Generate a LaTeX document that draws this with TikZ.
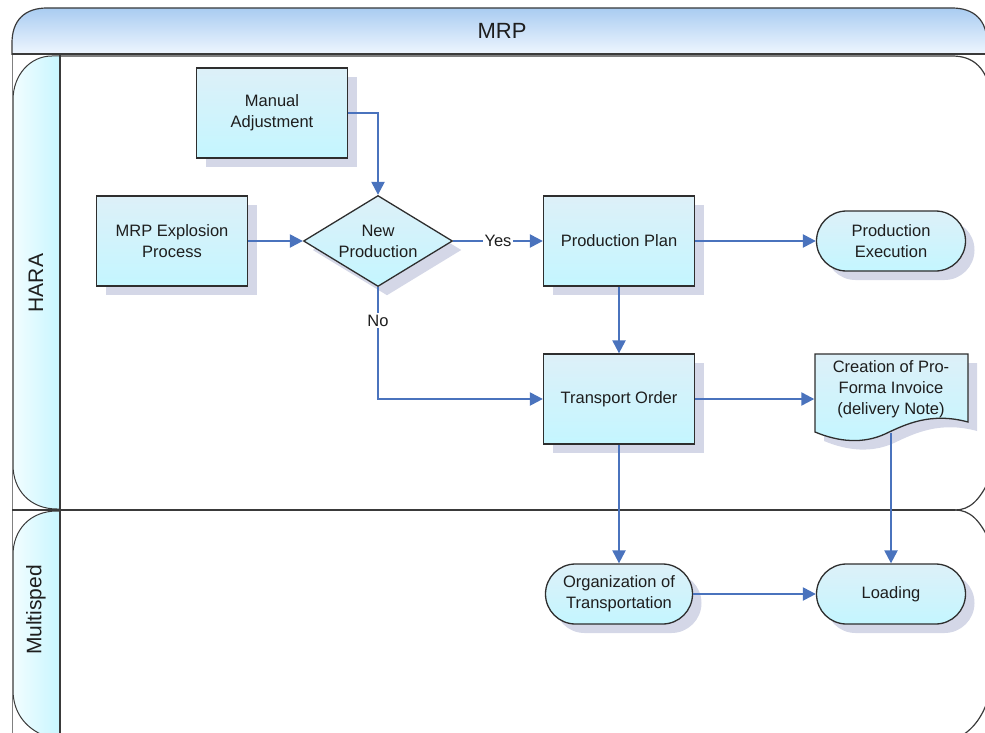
\documentclass[tikz,border=0pt]{standalone}
\usepackage{fontspec}
\setmainfont{Liberation Sans}
\usetikzlibrary{shapes.geometric,shapes.misc,arrows.meta,shadows}
\definecolor{edgec}{HTML}{4A73BD}
\definecolor{nodeb}{HTML}{2E2E2E}
\definecolor{nodetop}{HTML}{DDF0F8}
\definecolor{nodebot}{HTML}{C4F6FF}
\definecolor{shadowc}{HTML}{D4D7E7}
\definecolor{txt}{HTML}{1E1E1E}
\definecolor{hdrtop}{HTML}{A9CCF1}
\definecolor{hdrbot}{HTML}{F0F7FF}
\definecolor{lanel}{HTML}{F2FDFF}
\definecolor{laner}{HTML}{C8F6FF}
\definecolor{framec}{HTML}{3A3A3A}
\newcommand\nodefont{\fontsize{16.5}{21}\selectfont}
\tikzset{
  box/.style={draw=nodeb, line width=1.3pt, top color=nodetop, bottom color=nodebot,
    drop shadow={shadow xshift=9pt, shadow yshift=-9pt, fill=shadowc, opacity=1},
    font=\nodefont, align=center, text=txt, inner sep=2pt},
  proc/.style={box, rectangle, minimum width=151pt, minimum height=90pt},
  term/.style={box, rounded rectangle, minimum width=153pt, minimum height=60pt},
  flow/.style={draw=edgec, line width=2.3pt, -{Triangle[length=13pt,width=13pt]}},
  lbl/.style={fill=white, font=\nodefont, text=txt, inner sep=2pt},
  frame/.style={draw=framec, line width=1.2pt},
  lanetxt/.style={font=\fontsize{21}{24}\selectfont, text=txt, rotate=90}
}
\begin{document}
\begin{tikzpicture}[x=1pt,y=-1pt]
\useasboundingbox (0,0) rectangle (985,733);
\clip (0,0) rectangle (985,733);
% header
\shade[top color=hdrtop, bottom color=hdrbot] (12,55) -- (12,43) .. controls (12,20) and (25,8) .. (47,8) -- (952,8) .. controls (974,8) and (987,20) .. (987,43) -- (987,55) -- cycle;
\draw[frame] (12,55) -- (12,43) .. controls (12,20) and (25,8) .. (47,8) -- (952,8) .. controls (974,8) and (987,20) .. (987,43) -- (987,55);
\node[font=\fontsize{22}{26}\selectfont, text=txt] (title) at (502,31) {MRP};
% lane labels
\shade[left color=lanel, right color=laner, draw=framec, line width=1pt] (60,56) -- (52,56) .. controls (30,56) and (13,75) .. (13,100) -- (13,465) .. controls (13,490) and (30,509) .. (57,509) -- (60,509) -- cycle;
\shade[left color=lanel, right color=laner, draw=framec, line width=1pt] (60,511) -- (57,511) .. controls (30,511) and (13,530) .. (13,555) -- (13,690) .. controls (13,712) and (25,728) .. (45,736) -- (60,736) -- cycle;
\node[lanetxt] (hara) at (36,283) {HARA};
\node[lanetxt] (multi) at (36,610) {Multisped};
% lane frame
\draw[draw=gray, line width=1pt] (12,55) -- (12,740);
\draw[frame] (60,55) -- (60,740);
\draw[frame, line width=2pt] (12,54) -- (987,54);
\draw[frame] (60,56) -- (952,56) .. controls (972,56) and (984,66) .. (990,88);
\draw[frame, line width=1.8pt] (12,510) -- (955,510);
\draw[frame] (955,510) .. controls (970,510) and (980,500) .. (990,478);
\draw[frame] (955,510) .. controls (970,510) and (980,520) .. (990,542);
\draw[frame] (992,685) .. controls (986,712) and (976,728) .. (958,738);
% nodes
\node[proc] (man) at (272,113) {Manual\\Adjustment};
\node[proc] (mrp) at (172,241) {MRP Explosion\\Process};
\node[box, diamond, minimum width=149pt, minimum height=91pt, inner sep=0pt] (dec) at (378,241) {};
\node[font=\nodefont, text=txt, align=center] (dect) at (378,241) {New\\Production};
\node[proc] (pp) at (619,241) {Production Plan};
\node[term] (pe) at (891,241) {Production\\Execution};
\node[proc] (to) at (619,399) {Transport Order};
% document shape
\node[minimum width=153pt, minimum height=79pt, inner sep=0pt] (doc) at (891,393) {};
\fill[shadowc] (824,363) -- (977,363) -- (977,431) .. controls (940,421) and (915,433) .. (894,443) .. controls (872,453) and (848,451) .. (824,441) -- cycle;
\shade[top color=nodetop, bottom color=nodebot, draw=nodeb, line width=1.3pt] (815,354) -- (968,354) -- (968,422) .. controls (931,412) and (906,424) .. (885,434) .. controls (863,444) and (839,442) .. (815,432) -- cycle;
\node[font=\nodefont, text=txt, align=center] (doct) at (891,389) {Creation of Pro-\\Forma Invoice\\(delivery Note)};
\node[term, minimum width=151pt] (org) at (619,594) {Organization of\\Transportation};
\node[term] (load) at (891,594) {Loading};
% connectors
\draw[flow] (man.east) -| (dec.north);
\draw[flow] (mrp.east) -- (dec.west);
\draw[flow] (dec.east) -- node[lbl] (yes) {Yes} (pp.west);
\draw[flow] (pp.east) -- (pe.west);
\draw[flow] (pp.south) -- (to.north);
\draw[flow] (dec.south) |- node[lbl, pos=0.15] (no) {No} (to.west);
\draw[flow] (to.east) -- (to.east -| doc.west);
\draw[flow] (to.south) -- (org.north);
\draw[flow] (doc.south) -- (load.north);
\draw[flow] (org.east) -- (load.west);
\end{tikzpicture}
\end{document}
